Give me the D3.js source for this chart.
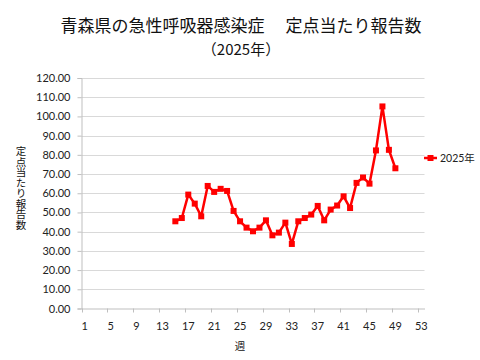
<!DOCTYPE html>
<html>
<head>
<meta charset="utf-8">
<script src="https://cdn.jsdelivr.net/npm/d3@7"></script>
<style>
  body { margin: 0; background: #fff; }
  svg { display: block; }
  .tick text { font-family: Lato, "Noto Sans CJK JP", sans-serif; font-size: 11px; fill: #222; }
  .jp { font-family: "Noto Sans CJK JP", sans-serif; fill: #111; }
</style>
</head>
<body>
<div id="chart"></div>
<script>
// weeks shown on the category axis
var weeks = d3.range(1, 54);
var label_weeks = [1, 5, 9, 13, 17, 21, 25, 29, 33, 37, 41, 45, 49, 53];
var y_ticks = [0, 10, 20, 30, 40, 50, 60, 70, 80, 90, 100, 110, 120];

// 2025 data, weeks 15..49
var data_weeks = d3.range(15, 50);
var values_2025 = [
  45.4, 47.1, 59.3, 54.6, 48.0, 63.8, 60.7, 62.3, 61.2, 50.8,
  45.4, 42.1, 40.2, 42.1, 45.9, 38.1, 39.5, 44.7, 33.6, 45.4,
  47.1, 48.9, 53.4, 45.9, 51.5, 53.6, 58.4, 52.3, 65.4, 68.2,
  65.0, 82.3, 105.2, 82.6, 73.0
];
var series_name = "2025年";

var width = 480, height = 360;
var margins = { top: 78, right: 55.5, bottom: 51.5, left: 81.5 };

var svg = d3.select("#chart").append("svg")
  .attr("width", width).attr("height", height);

var x = d3.scaleBand()
  .domain(weeks)
  .range([margins.left, width - margins.right])
  .padding(0);

var y = d3.scaleLinear()
  .domain([0, 120])
  .range([height - margins.bottom, margins.top]);

// gridlines
svg.append("g")
  .selectAll("line")
  .data(y_ticks.slice(1))
  .enter().append("line")
  .attr("x1", margins.left).attr("x2", width - margins.right)
  .attr("y1", d => Math.round(y(d)) + 0.5).attr("y2", d => Math.round(y(d)) + 0.5)
  .attr("stroke", "#d9d9d9");

// Y axis
var y_axis = svg.append("g")
  .attr("transform", "translate(" + margins.left + ",0)")
  .call(d3.axisLeft(y).tickValues(y_ticks).tickSize(4).tickPadding(7).tickFormat(d3.format(".2f")));
y_axis.select(".domain").attr("stroke", "#bfbfbf");
y_axis.selectAll(".tick line").attr("stroke", "#bfbfbf");

// X axis labels at category centres
var x_axis = svg.append("g")
  .attr("transform", "translate(0," + (height - margins.bottom) + ")")
  .call(d3.axisBottom(x).tickValues(label_weeks).tickSize(0).tickPadding(14));
x_axis.select(".domain").attr("stroke", "#bfbfbf");

// tick marks between categories
svg.append("g")
  .selectAll("line")
  .data(label_weeks)
  .enter().append("line")
  .attr("x1", d => Math.round(x(d)) + 0.5).attr("x2", d => Math.round(x(d)) + 0.5)
  .attr("y1", height - margins.bottom).attr("y2", height - margins.bottom + 4)
  .attr("stroke", "#bfbfbf");

// the series
var pts = data_weeks.map((w, i) => ({ week: w, value: values_2025[i] }));
var line = d3.line()
  .x(d => x(d.week) + x.bandwidth() / 2)
  .y(d => y(d.value));

svg.append("path")
  .datum(pts)
  .attr("d", line)
  .attr("fill", "none")
  .attr("stroke", "#ff0000")
  .attr("stroke-width", 2.5)
  .attr("stroke-linejoin", "round");

svg.append("g")
  .selectAll("rect")
  .data(pts)
  .enter().append("rect")
  .attr("x", d => x(d.week) + x.bandwidth() / 2 - 3)
  .attr("y", d => y(d.value) - 3)
  .attr("width", 6).attr("height", 6)
  .attr("fill", "#ff0000");

// legend
var lg = svg.append("g").attr("transform", "translate(424,158)");
lg.append("line").attr("x1", 0).attr("x2", 13).attr("stroke", "#ff0000").attr("stroke-width", 2.5);
lg.append("rect").attr("x", 3.5).attr("y", -3).attr("width", 6).attr("height", 6).attr("fill", "#ff0000");
lg.append("text").attr("x", 16).attr("y", 4)
  .style("font-family", "Lato, 'Noto Sans CJK JP', sans-serif").style("font-size", "10.5px").style("fill", "#222")
  .text(series_name);

// titles
svg.append("text").attr("class", "jp")
  .attr("x", 241).attr("y", 32).attr("text-anchor", "middle")
  .style("font-size", "17px")
  .style("white-space", "pre")
  .text("青森県の急性呼吸器感染症\u3000 定点当たり報告数");
svg.append("text").attr("class", "jp")
  .attr("x", 241).attr("y", 55).attr("text-anchor", "middle")
  .style("font-size", "15px")
  .text("（2025年）");

// axis titles
svg.append("text").attr("class", "jp")
  .attr("x", 21).attr("y", 188).attr("text-anchor", "middle")
  .style("font-size", "10.5px")
  .style("writing-mode", "vertical-rl")
  .text("定点当たり報告数");
svg.append("text").attr("class", "jp")
  .attr("x", 240).attr("y", 350).attr("text-anchor", "middle")
  .style("font-size", "10.5px")
  .text("週");
</script>
</body>
</html>
